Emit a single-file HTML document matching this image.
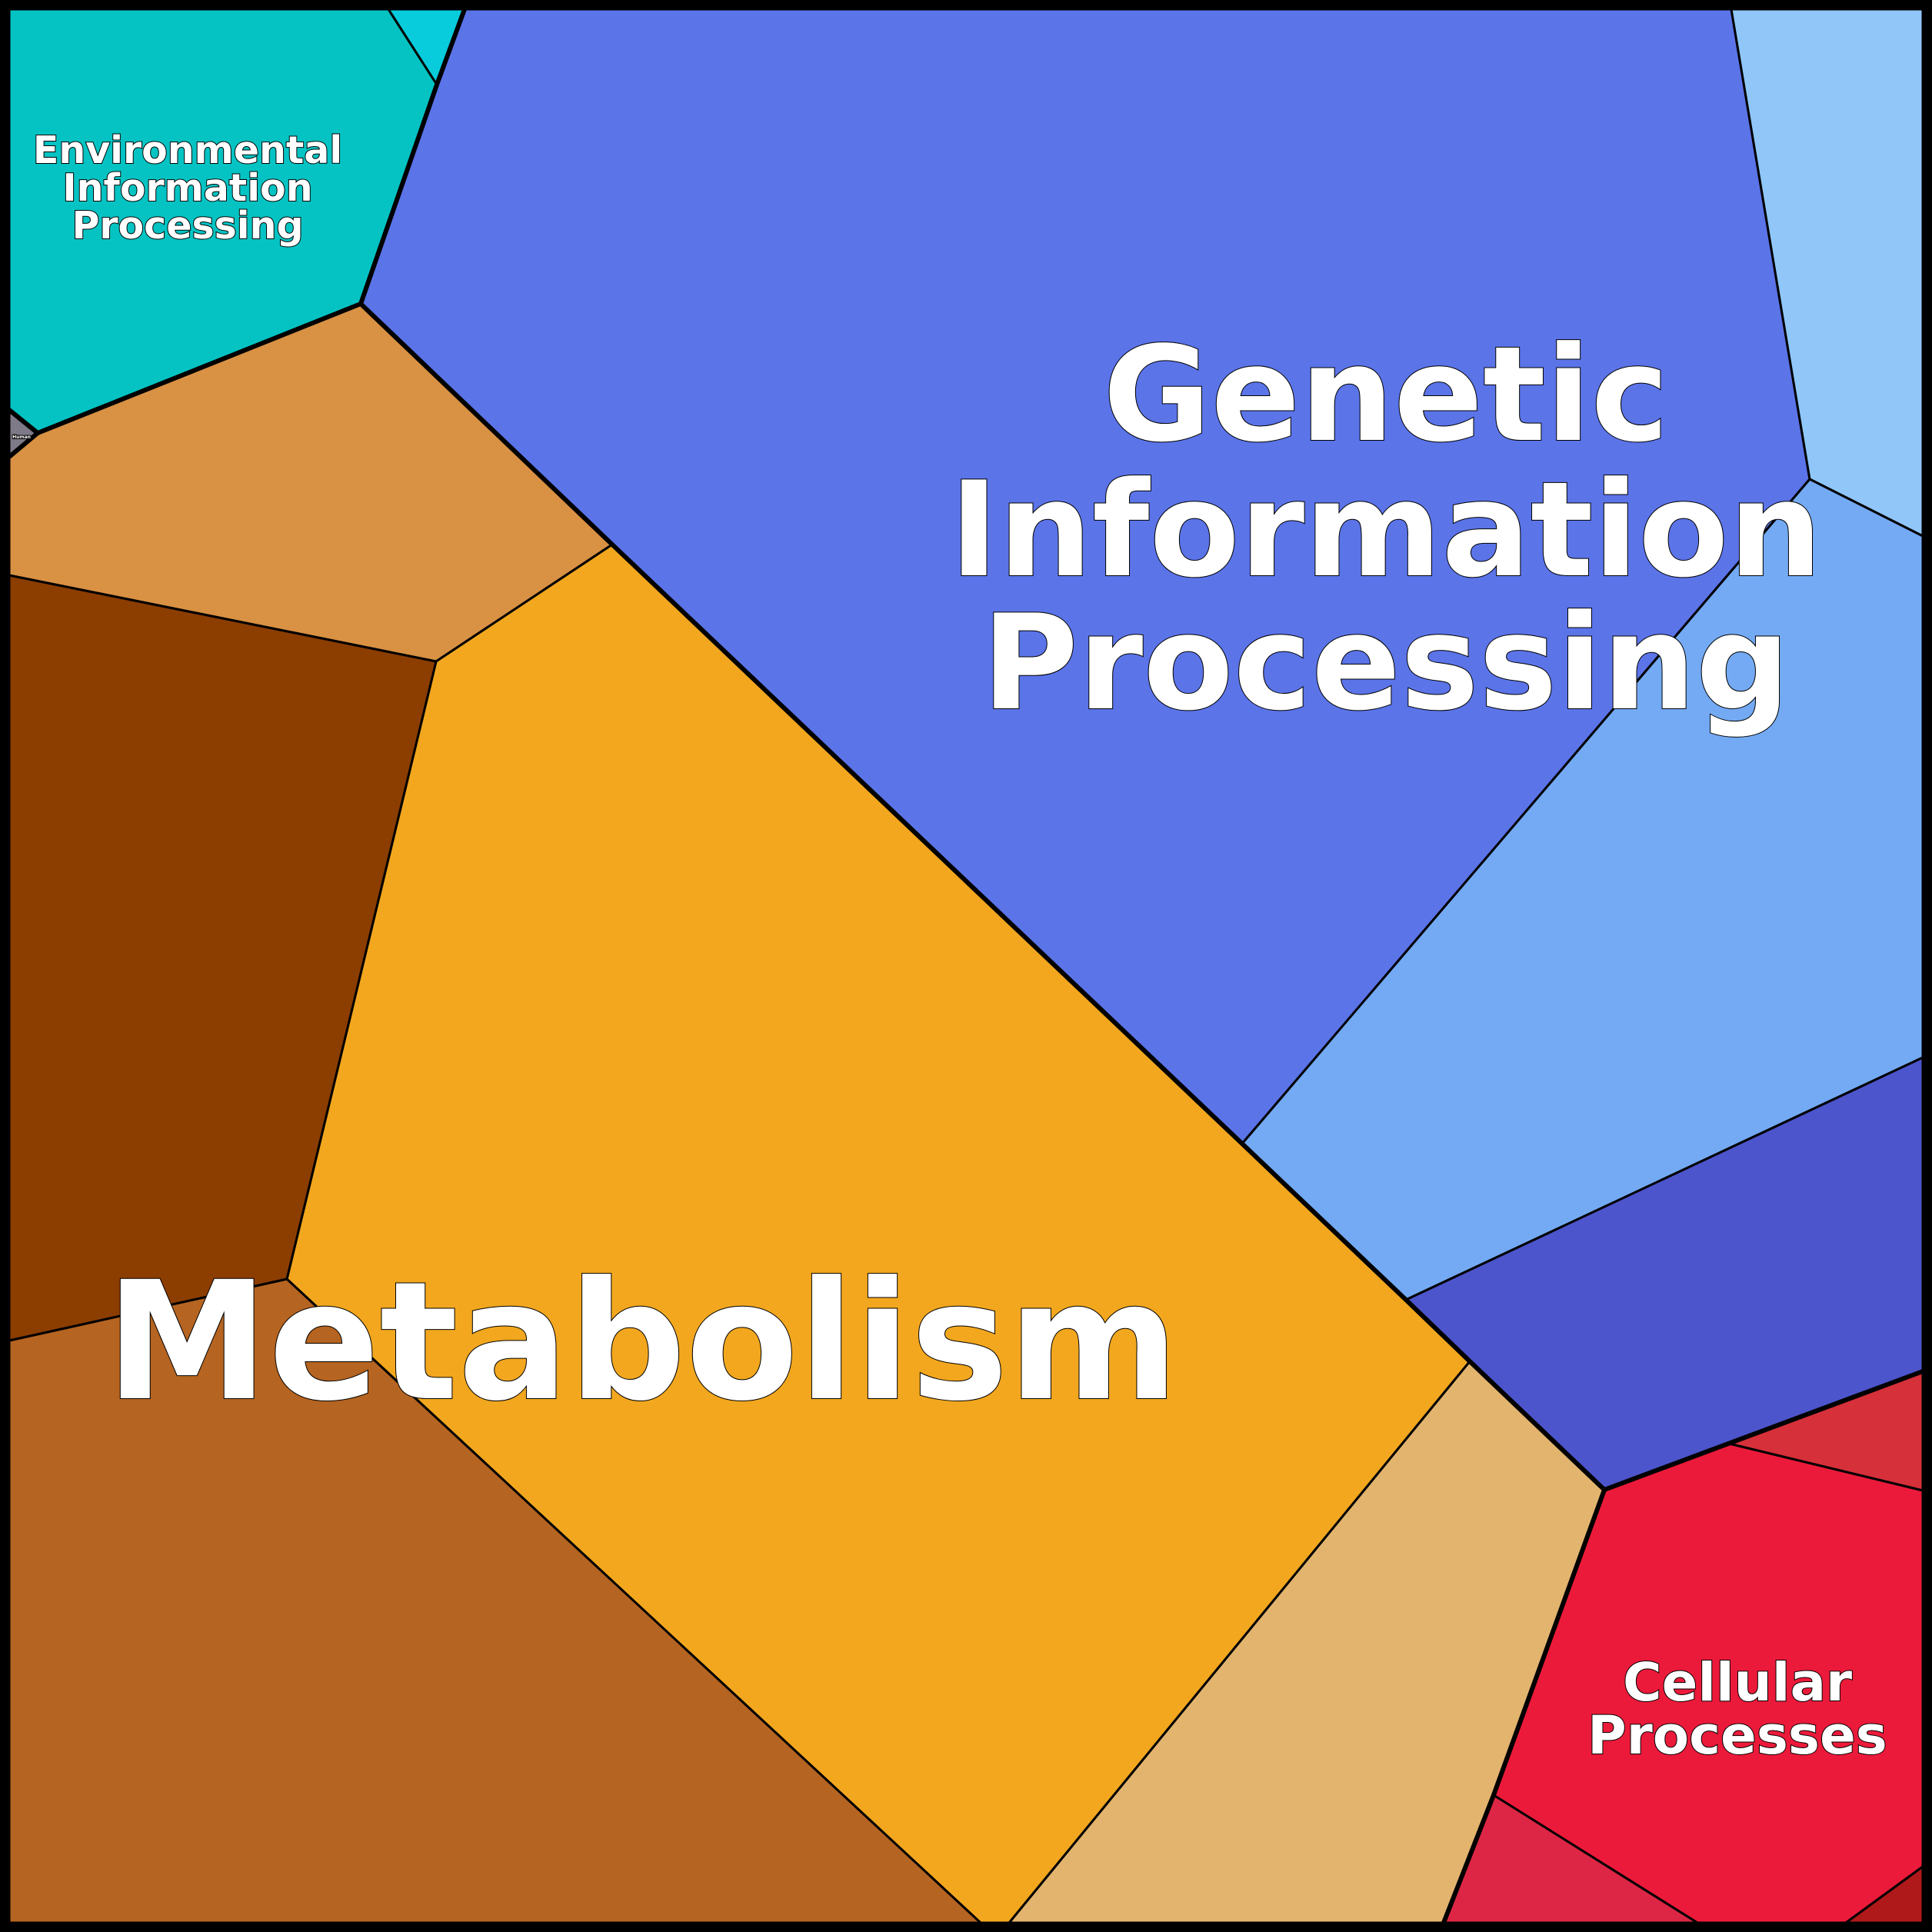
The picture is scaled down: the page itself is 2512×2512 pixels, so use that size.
<!DOCTYPE html>
<html><head><meta charset="utf-8"><style>
html,body{margin:0;padding:0;background:#000}
svg{display:block}
text{font-family:"DejaVu Sans","Liberation Sans",sans-serif;font-weight:bold;fill:#fff;stroke:#000;stroke-width:2;paint-order:stroke;text-anchor:middle}
</style></head><body>
<svg width="2512" height="2512" viewBox="0 0 2512 2512" xmlns="http://www.w3.org/2000/svg">
<rect x="0" y="0" width="2512" height="2512" fill="#000"/>
<g stroke="#000" stroke-width="3" stroke-linejoin="round">
<polygon fill="#05C3C3" points="12,12 505,12 568,110 469,395 49,563 12,533"/>
<polygon fill="#08CBDB" points="505,12 604,12 568,110"/>
<polygon fill="#7F7A88" points="12,533 49,563 12,594"/>
<polygon fill="#D99143" points="49,563 469,395 796,708 567,860 12,748 12,594"/>
<polygon fill="#5B74E8" points="604,12 2251,12 2353,623 1615,1487 796,708 469,395 568,110"/>
<polygon fill="#90C7F8" points="2251,12 2500,12 2500,697 2353,623"/>
<polygon fill="#74AAF3" points="2353,623 2500,697 2500,1375 1828,1690 1615,1487"/>
<polygon fill="#4C55CB" points="1828,1690 2500,1375 2500,1783 2086,1937 1911,1770"/>
<polygon fill="#D6303A" points="2248,1877 2500,1783 2500,1938"/>
<polygon fill="#EC1A3A" points="2086,1937 2248,1877 2500,1938 2500,2427 2400,2500 2207,2500 1942,2334"/>
<polygon fill="#DD2645" points="1942,2334 2207,2500 1877,2500"/>
<polygon fill="#B0191A" points="2400,2500 2500,2427 2500,2500"/>
<polygon fill="#E2B46E" points="1911,1770 2086,1937 1942,2334 1877,2500 1312,2500"/>
<polygon fill="#F2A71F" points="796,708 1911,1770 1312,2500 1275,2500 373,1663 567,860"/>
<polygon fill="#B56421" points="12,1743 373,1663 1275,2500 12,2500"/>
<polygon fill="#8C3D00" points="12,748 567,860 373,1663 12,1743"/>
</g>
<g stroke="#000" stroke-width="6" fill="none" stroke-linejoin="round">
<polyline points="604,12 568,110 469,395 49,563 12,533"/>
<polyline points="49,563 12,594"/>
<polyline points="469,395 796,708 1615,1487 1828,1690 1911,1770 2086,1937 2500,1783"/>
<polyline points="2086,1937 1942,2334 1877,2500"/>
</g>
<rect x="6" y="6" width="2500" height="2500" fill="none" stroke="#000" stroke-width="12"/>
<g font-size="171">
<text x="1802" y="572">Genetic</text>
<text x="1802" y="748">Information</text>
<text x="1802" y="921">Processing</text>
</g>
<text x="835" y="1818" font-size="213">Metabolism</text>
<g font-size="49" stroke-width="1.5">
<text x="244" y="212">Environmental</text>
<text x="244" y="261">Information</text>
<text x="244" y="310">Processing</text>
</g>
<g font-size="69" stroke-width="1.5">
<text x="2259" y="2211">Cellular</text>
<text x="2259" y="2280">Processes</text>
</g>
<text x="28" y="570" font-size="6" stroke="none">Human</text>
</svg>
</body></html>
